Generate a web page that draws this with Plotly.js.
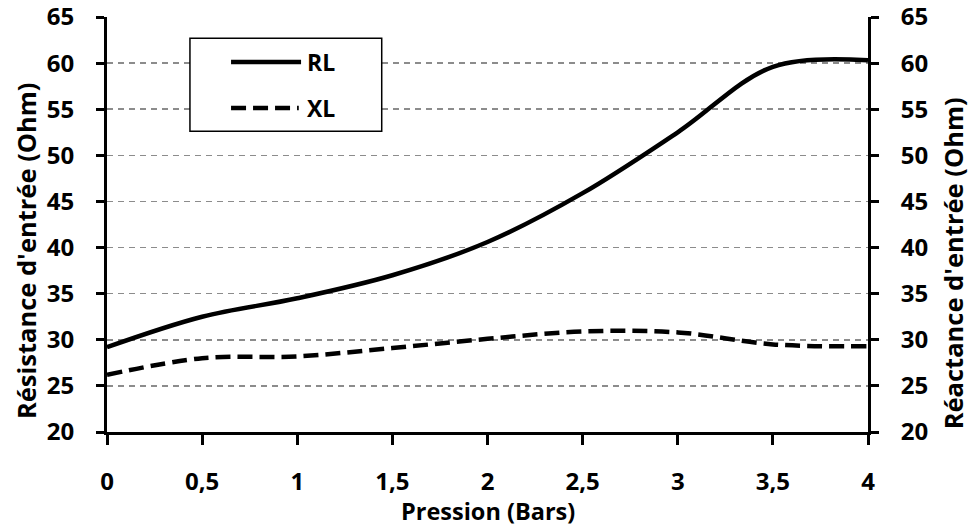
<!DOCTYPE html>
<html><head><meta charset="utf-8">
<script src="https://cdn.plot.ly/plotly-3.0.1.min.js"></script>
<style>body{margin:0;background:#fff}</style>
</head><body>
<div id="chart" style="width:973px;height:526px"></div>
<script>
const pression = [0, 0.5, 1, 1.5, 2, 2.5, 3, 3.5, 4];
const RL = [29.2, 32.5, 34.5, 37.0, 40.6, 45.9, 52.5, 59.6, 60.3];
const XL = [26.2, 28.0, 28.2, 29.1, 30.1, 30.9, 30.8, 29.5, 29.3];
const xTickVals = [0, 0.5, 1, 1.5, 2, 2.5, 3, 3.5, 4];
const xTickText = ['0', '0,5', '1', '1,5', '2', '2,5', '3', '3,5', '4'];
const yTickVals = [20, 25, 30, 35, 40, 45, 50, 55, 60, 65];
const seriesNames = ['RL', 'XL'];
const xTitle = 'Pression (Bars)';
const yTitleLeft = "Résistance d'entrée (Ohm)";
const yTitleRight = "Réactance d'entrée (Ohm)";

const FAM = 'Open Sans, sans-serif';
const tickFont = {family: FAM, size: 24, color: '#000', weight: 700};
const titleFont = {family: FAM, size: 23.5, color: '#000', weight: 700};
const yTitleFont = {family: FAM, size: 25.5, color: '#000', weight: 700};

const traces = [
  {x: pression, y: RL, name: seriesNames[0], mode: 'lines',
   line: {color: '#000', width: 4.5, shape: 'spline', smoothing: 1}},
  {x: pression, y: XL, name: seriesNames[1], mode: 'lines',
   line: {color: '#000', width: 4.5, dash: '15px,7px', shape: 'spline', smoothing: 1}},
  {x: pression, y: XL, yaxis: 'y2', mode: 'lines', showlegend: false, hoverinfo: 'skip',
   line: {color: 'rgba(0,0,0,0)', width: 0}}
];

const yax = {
  range: [20, 65], tickvals: yTickVals, showline: true, linecolor: '#000', linewidth: 3,
  ticks: 'outside', ticklen: 8, tickwidth: 3, tickcolor: '#000', zeroline: false,
  tickfont: tickFont, ticklabelstandoff: 17, ticklabeloverflow: 'allow'
};

// custom legend (box, samples, labels) in paper coordinates
const legendShapes = [
  {type: 'rect', xref: 'paper', yref: 'paper', x0: 0.109, x1: 0.361, y0: 0.725, y1: 0.949,
   line: {color: '#000', width: 1.5}, fillcolor: '#fff', layer: 'above'},
  {type: 'line', xref: 'paper', yref: 'paper', x0: 0.163, x1: 0.255, y0: 0.8916, y1: 0.8916,
   line: {color: '#000', width: 4.5}, layer: 'above'},
  {type: 'line', xref: 'paper', yref: 'paper', x0: 0.163, x1: 0.252, y0: 0.7807, y1: 0.7807,
   line: {color: '#000', width: 4.5, dash: '15px,7px'}, layer: 'above'}
];
const annotations = seriesNames.map((n, i) => ({
  xref: 'paper', yref: 'paper', x: 0.2605, y: i === 0 ? 0.8916 : 0.7807,
  xanchor: 'left', yanchor: 'middle', text: n, showarrow: false,
  font: {family: FAM, size: 23, color: '#000', weight: 700}
}));
annotations.push(
  {xref: 'paper', yref: 'paper', x: -0.1064, y: 0.436, xanchor: 'center', yanchor: 'middle',
   text: yTitleLeft, textangle: -90, showarrow: false, font: yTitleFont},
  {xref: 'paper', yref: 'paper', x: 1.112, y: 0.407, xanchor: 'center', yanchor: 'middle',
   text: yTitleRight, textangle: -90, showarrow: false, font: yTitleFont},
  {xref: 'paper', yref: 'paper', x: 0.5, y: -0.19, xanchor: 'center', yanchor: 'middle',
   text: xTitle, showarrow: false, font: titleFont}
);

const layout = {
  width: 973, height: 526,
  margin: {l: 107, r: 105, t: 17, b: 94},
  paper_bgcolor: '#fff', plot_bgcolor: '#fff',
  font: tickFont,
  showlegend: false,
  shapes: legendShapes,
  annotations: annotations,
  xaxis: {range: [0, 4], tickvals: xTickVals, ticktext: xTickText, showline: true,
    linecolor: '#000', linewidth: 3, ticks: 'outside', ticklen: 10, tickwidth: 3,
    tickcolor: '#000', showgrid: false, zeroline: false, tickfont: tickFont,
    ticklabelstandoff: 16},
  yaxis: Object.assign({}, yax, {
    showgrid: true, gridcolor: '#8c8c8c', griddash: '6px,5px', gridwidth: 1.5}),
  yaxis2: Object.assign({}, yax, {overlaying: 'y', side: 'right', showgrid: false})
};

Plotly.newPlot('chart', traces, layout, {displayModeBar: false, staticPlot: true});
</script>
</body></html>
